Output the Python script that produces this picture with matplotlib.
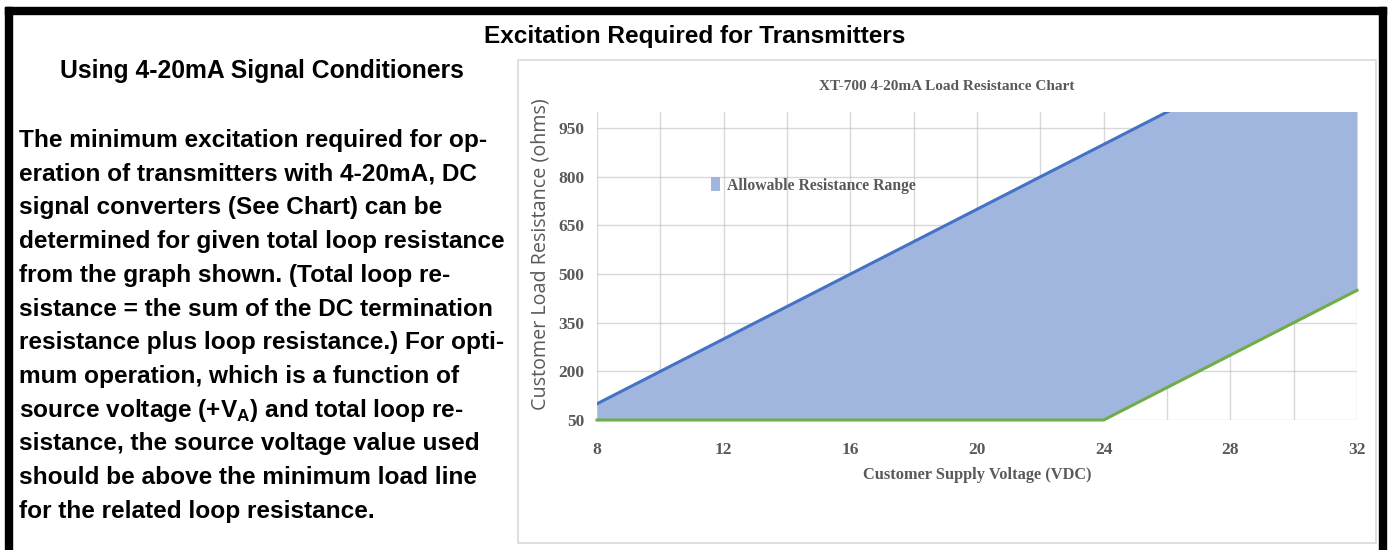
import matplotlib.pyplot as plt
from matplotlib.patches import Rectangle

plt.rcParams['mathtext.fontset'] = 'custom'
plt.rcParams['mathtext.rm'] = 'Liberation Sans:bold'
plt.rcParams['mathtext.bf'] = 'Liberation Sans:bold'

# --- data ---
voltage = [8, 10, 12, 14, 16, 18, 20, 22, 24, 26, 28, 30, 32]
max_load = [100, 200, 300, 400, 500, 600, 700, 800, 900, 1000, 1100, 1200, 1300]
min_load = [50, 50, 50, 50, 50, 50, 50, 50, 50, 150, 250, 350, 450]
x_ticks = [8, 12, 16, 20, 24, 28, 32]
y_ticks = [50, 200, 350, 500, 650, 800, 950]

paragraph = [
    "The minimum excitation required for op-",
    "eration of transmitters with 4-20mA, DC",
    "signal converters (See Chart) can be",
    "determined for given total loop resistance",
    "from the graph shown. (Total loop re-",
    "sistance = the sum of the DC termination",
    "resistance plus loop resistance.) For opti-",
    "mum operation, which is a function of",
    "source voltage (+V$_\\mathrm{A}$) and total loop re-",
    "sistance, the source voltage value used",
    "should be above the minimum load line",
    "for the related loop resistance.",
]

W, H = 1388, 550
fig = plt.figure(figsize=(W / 100, H / 100), dpi=100)


def fx(px):
    return px / W


def fy(py):
    return 1 - py / H


# black frame (left, top, right)
black = dict(color='black', transform=fig.transFigure, zorder=5)
fig.patches.append(Rectangle((fx(5), 0), fx(7), fy(7), **black))
fig.patches.append(Rectangle((fx(5), fy(14)), fx(1381), 7 / H, **black))
fig.patches.append(Rectangle((fx(1379), 0), fx(7), fy(7), **black))

# gray chart box
fig.patches.append(Rectangle((fx(518), fy(543)), fx(858), (543 - 60) / H,
                             fill=False, edgecolor='#d9d9d9', linewidth=1.2,
                             transform=fig.transFigure))

txt = dict(family='Liberation Sans', weight='bold', color='black')
fig.text(fx(695), fy(43), "Excitation Required for Transmitters", ha='center',
         va='baseline', fontsize=17.6, **txt)
fig.text(fx(262), fy(78), "Using 4-20mA Signal Conditioners", ha='center',
         va='baseline', fontsize=17.8, **txt)
for i, line in enumerate(paragraph):
    fig.text(fx(19), fy(147 + i * 33.7), line, ha='left', va='baseline',
             fontsize=17.6, **txt)

# chart
serif = dict(family='Liberation Serif', weight='bold', color='#595959')
ax = fig.add_axes([fx(597), fy(420), fx(1357 - 597), (420 - 112) / H])
ax.fill_between(voltage, min_load, max_load, color='#a0b6df', linewidth=0,
                label='Allowable Resistance Range', zorder=2)
ax.plot(voltage, max_load, color='#4472c4', linewidth=2.2, zorder=3)
ax.plot(voltage, min_load, color='#70ad47', linewidth=2.2, zorder=3,
        clip_on=False)
ax.set_xlim(8, 32)
ax.set_ylim(50, 1000)
ax.set_xticks(x_ticks)
ax.set_xticks(range(8, 33, 2), minor=True)
ax.set_yticks(y_ticks)
ax.grid(True, which='both', color='#b8b8b8', alpha=0.55, linewidth=1,
        zorder=2.5)
for s in ax.spines.values():
    s.set_visible(False)
ax.tick_params(which='both', length=0)
ax.tick_params(axis='x', pad=16)
ax.tick_params(axis='y', pad=9)
for lbl in ax.get_xticklabels() + ax.get_yticklabels():
    lbl.set_fontproperties(dict(family='Liberation Serif', weight='bold', size=12.5))
    lbl.set_color('#595959')
ax.set_xlabel("Customer Supply Voltage (VDC)", fontsize=11.8, labelpad=6, **serif)
ax.set_ylabel("Customer Load Resistance (ohms)", family='Open Sans',
              fontsize=14.2, color='#595959')
ax.yaxis.set_label_coords(-0.061, 0.539)
fig.text(fx(947), fy(90), "XT-700 4-20mA Load Resistance Chart", ha='center',
         va='baseline', fontsize=11, **serif)
leg = ax.legend(loc='center left', bbox_to_anchor=(0.15, 0.762), frameon=False,
                borderpad=0, borderaxespad=0, handlelength=0.55,
                handleheight=1.0, handletextpad=0.45,
                prop=dict(family='Liberation Serif', weight='bold', size=11.3))
for t in leg.get_texts():
    t.set_color('#595959')

fig.savefig('out.png', dpi=100)
